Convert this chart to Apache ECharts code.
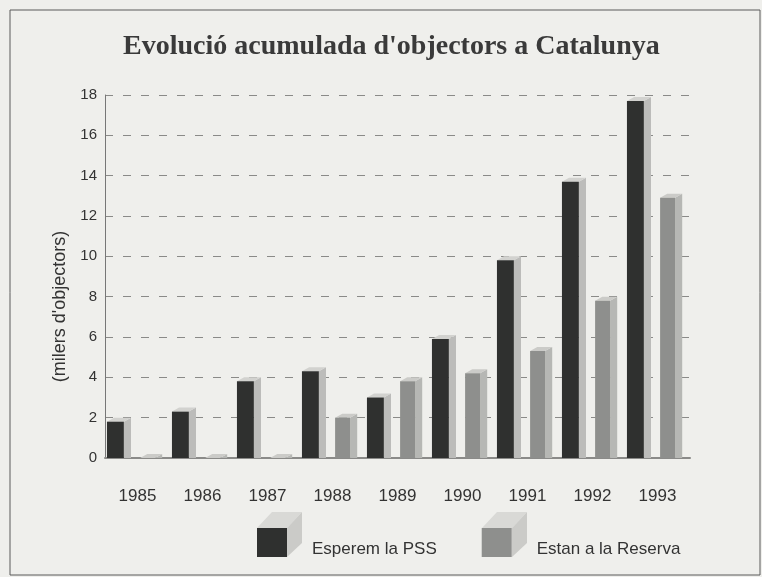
<!DOCTYPE html>
<html>
<head>
<meta charset="utf-8">
<script src="https://cdn.jsdelivr.net/npm/echarts@6/dist/echarts.min.js"></script>
<style>
  html, body { margin: 0; padding: 0; background: #efefec; }
  #chart { width: 762px; height: 577px; }
</style>
</head>
<body>
<div id="chart"></div>
<script>
const years = ['1985', '1986', '1987', '1988', '1989', '1990', '1991', '1992', '1993'];
const esperem = [1.8, 2.3, 3.8, 4.3, 3.0, 5.9, 9.8, 13.7, 17.7];
const reserva = [0, 0, 0, 2.0, 3.8, 4.2, 5.3, 7.8, 12.9];
const yTicks = [0, 2, 4, 6, 8, 10, 12, 14, 16, 18];

const chart = echarts.init(document.getElementById('chart'));

// bar with a little 3d side and top, like the print
function bar3d(offset, width, colors) {
  return function (params, api) {
    const idx = api.value(0);
    const v = api.value(1);
    const base = api.coord([idx, 0]);
    const top = api.coord([idx, v]);
    const bw = api.size([1, 0])[0];
    const x0 = base[0] + offset * bw;
    const x1 = x0 + width * bw;
    const dx = 0.11 * bw;
    const dy = 4;
    const ty = top[1];
    const by = base[1];
    return {
      type: 'group',
      children: [
        {
          type: 'polygon',
          shape: { points: [[x1, ty], [x1 + dx, ty - dy], [x1 + dx, by], [x1, by]] },
          style: { fill: colors[1] }
        },
        {
          type: 'polygon',
          shape: { points: [[x0, ty], [x0 + dx, ty - dy], [x1 + dx, ty - dy], [x1, ty]] },
          style: { fill: colors[2] }
        },
        {
          type: 'rect',
          shape: { x: x0, y: ty, width: x1 - x0, height: by - ty },
          style: { fill: colors[0] }
        }
      ]
    };
  };
}

// the cube look behind the legend squares
function legendCube(x, y) {
  return [
    {
      type: 'polygon', z: 0,
      shape: { points: [[x, y], [x + 15, y - 16], [x + 45, y - 16], [x + 30, y]] },
      style: { fill: '#d9d9d6' }
    },
    {
      type: 'polygon', z: 0,
      shape: { points: [[x + 30, y], [x + 45, y - 16], [x + 45, y + 15], [x + 30, y + 29]] },
      style: { fill: '#cbcbc8' }
    }
  ];
}

const darkCols = ['#2f302f', '#bcbcba', '#d2d2cf'];
const lightCols = ['#8e8f8d', '#b6b7b4', '#cbcbc8'];

chart.setOption({
  backgroundColor: '#efefec',
  animation: false,
  title: {
    text: "Evolució acumulada d'objectors a Catalunya",
    left: 118,
    top: 28,
    textStyle: {
      fontFamily: 'Liberation Serif',
      fontWeight: 'bold',
      fontSize: 28,
      color: '#3a3a3a'
    }
  },
  graphic: [
    {
      type: 'rect',
      z: -1,
      shape: { x: 10, y: 10, width: 750, height: 565 },
      style: { fill: 'none', stroke: '#5a5a5a', lineWidth: 1 }
    }
  ].concat(legendCube(257, 528), legendCube(482, 528)),
  legend: {
    left: 257,
    top: 528,
    padding: 0,
    itemWidth: 30,
    itemHeight: 29,
    itemGap: 45,
    icon: 'rect',
    formatter: '{t|{name}}',
    textStyle: {
      fontFamily: 'Liberation Sans',
      fontSize: 17,
      color: '#333',
      rich: {
        t: {
          fontFamily: 'Liberation Sans',
          fontSize: 17,
          color: '#333',
          padding: [13, 0, 0, 20]
        }
      }
    },
    data: ['Esperem la PSS', 'Estan a la Reserva']
  },
  grid: { left: 105, right: 72, top: 95, bottom: 119 },
  xAxis: {
    type: 'category',
    data: years,
    axisLine: { lineStyle: { color: '#8a8a88', width: 2 } },
    axisTick: { show: false },
    axisLabel: {
      margin: 30,
      fontFamily: 'Liberation Sans',
      fontSize: 17,
      color: '#333'
    }
  },
  yAxis: {
    type: 'value',
    min: yTicks[0],
    max: yTicks[yTicks.length - 1],
    interval: 2,
    name: "(milers d'objectors)",
    nameLocation: 'middle',
    nameGap: 20,
    nameTextStyle: {
      fontFamily: 'Liberation Sans',
      fontSize: 18,
      color: '#333',
      padding: [0, 60, 0, 0]
    },
    axisLine: { show: true, lineStyle: { color: '#777', width: 1 } },
    axisTick: { show: false },
    axisLabel: {
      margin: 8,
      fontFamily: 'Liberation Sans',
      fontSize: 15,
      color: '#333'
    },
    splitLine: { lineStyle: { color: '#8a8a88', type: [8, 10], width: 1 } }
  },
  series: [
    {
      name: 'Esperem la PSS',
      type: 'custom',
      itemStyle: { color: darkCols[0] },
      renderItem: bar3d(-0.47, 0.26, darkCols),
      encode: { x: 0, y: 1 },
      data: esperem.map((v, i) => [i, v])
    },
    {
      name: 'Estan a la Reserva',
      type: 'custom',
      itemStyle: { color: lightCols[0] },
      renderItem: bar3d(0.04, 0.23, lightCols),
      encode: { x: 0, y: 1 },
      data: reserva.map((v, i) => [i, v])
    }
  ]
});
</script>
</body>
</html>
